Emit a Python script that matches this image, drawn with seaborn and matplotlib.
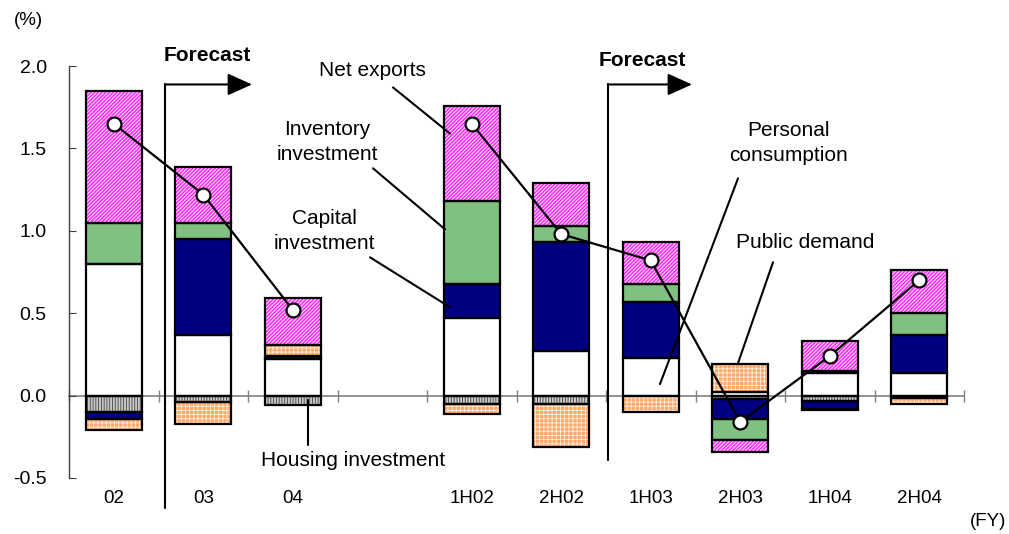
import numpy as np
import pandas as pd
import matplotlib
matplotlib.use("Agg")
import matplotlib.pyplot as plt
import seaborn as sns
from matplotlib.ticker import FormatStrFormatter

# contributions to real GDP growth (percentage points), blank slot separates FY and half-year data
categories = ["02", "03", "04", "", "1H02", "2H02", "1H03", "2H03", "1H04", "2H04"]
personal = [0.80, 0.37, 0.22, np.nan, 0.47, 0.27, 0.23, 0.02, 0.14, 0.14]
housing = [-0.10, -0.04, -0.06, np.nan, -0.05, -0.05, 0.0, -0.02, -0.03, -0.015]
capital = [-0.04, 0.58, 0.02, np.nan, 0.21, 0.66, 0.34, -0.12, -0.05, 0.23]
inventory = [0.25, 0.10, 0.0, np.nan, 0.50, 0.10, 0.11, -0.13, 0.01, 0.13]
public = [-0.07, -0.13, 0.07, np.nan, -0.06, -0.26, -0.10, 0.17, -0.01, -0.035]
net_exports = [0.80, 0.34, 0.28, np.nan, 0.58, 0.26, 0.25, -0.07, 0.18, 0.26]
gdp = [1.65, 1.22, 0.52, np.nan, 1.65, 0.98, 0.82, -0.16, 0.24, 0.70]
period = ["FY", "FY", "FY", None, "H", "H", "H", "H", "H", "H"]

sns.set_style("white")
plt.rcParams["font.family"] = ["Liberation Sans", "DejaVu Sans"]
plt.rcParams["axes.unicode_minus"] = False
plt.rcParams["hatch.linewidth"] = 0.6
plt.rcParams["text.color"] = "black"
plt.rcParams["xtick.color"] = "black"
plt.rcParams["ytick.color"] = "black"

fig = plt.figure(figsize=(10.09, 5.34), dpi=100)
ax = fig.add_axes([0.0684, 0.1049, 0.887, 0.7715])

# (values, face colour, hatch, hatch colour) in stacking order
components = [
    (personal, "white", None, "white"),
    (housing, "#c8c8c8", "||||||", "#404040"),
    (capital, "#000080", None, "#000080"),
    (inventory, "#80c080", None, "#80c080"),
    (public, "#ffa86a", "++++", "#fff0e0"),
    (net_exports, "#ff33ff", "/////////", "white"),
]

x = np.arange(len(categories))
width = 0.63
pos_base = np.zeros(len(x))
neg_base = np.zeros(len(x))
for vals, face, hatch, hcol in components:
    v = np.nan_to_num(np.array(vals, dtype=float))
    bottom = np.where(v >= 0, pos_base, neg_base)
    m = v != 0
    ax.bar(x[m], v[m], width, bottom=bottom[m], color=face, hatch=hatch,
           edgecolor=hcol, linewidth=0, zorder=2)
    ax.bar(x[m], v[m], width, bottom=bottom[m], fill=False,
           edgecolor="black", linewidth=1.6, zorder=3)
    pos_base += np.where(v > 0, v, 0)
    neg_base += np.where(v < 0, v, 0)

df = pd.DataFrame({"pos": x, "gdp": gdp, "period": period}).dropna()
sns.lineplot(data=df, x="pos", y="gdp", units="period", estimator=None, ax=ax,
             color="black", lw=1.6, marker="o", markersize=10,
             markerfacecolor="white", markeredgecolor="black",
             markeredgewidth=1.6, zorder=5)

ax.set_xlim(-0.5, len(categories) - 0.5)
ax.set_ylim(-0.5, 2.0)
ax.set_xlabel("")
ax.set_ylabel("")
ax.set_xticks(x, categories)
ax.set_yticks(np.arange(-0.5, 2.01, 0.5))
ax.yaxis.set_major_formatter(FormatStrFormatter("%.1f"))
ax.tick_params(axis="x", length=0, pad=9, labelsize=13.5)
ax.tick_params(axis="y", direction="in", length=5, pad=16, labelsize=14,
               color="#404040", left=True)
for s in ["top", "right", "bottom"]:
    ax.spines[s].set_visible(False)
ax.spines["left"].set_color("#404040")
ax.spines["left"].set_linewidth(1.0)

# zero line with category separators
sec = ax.secondary_xaxis(0.5 / 2.5)
sec.set_xticks(np.arange(-0.5, len(categories), 1.0))
sec.tick_params(direction="inout", length=9, width=1, color="#808080",
                labelbottom=False, labeltop=False)
for s in sec.spines.values():
    s.set_color("#808080")
    s.set_linewidth(1.2)

# labels with leader lines
lab = dict(ha="center", va="center", fontsize=15, linespacing=1.4)
ax.text(2.885, 1.973, "Net exports", **lab)
ax.plot([3.12, 3.757], [1.87, 1.59], color="black", lw=1.5, zorder=6)
ax.text(2.383, 1.536, "Inventory\ninvestment", **lab)
ax.plot([2.897, 3.701], [1.379, 1.009], color="black", lw=1.5, zorder=6)
ax.text(2.349, 0.997, "Capital\ninvestment", **lab)
ax.plot([2.863, 3.757], [0.839, 0.536], color="black", lw=1.5, zorder=6)
ax.text(7.534, 1.530, "Personal\nconsumption", **lab)
ax.plot([6.975, 6.103], [1.318, 0.07], color="black", lw=1.5, zorder=6)
ax.text(7.723, 0.93, "Public demand", **lab)
ax.plot([7.366, 6.975], [0.809, 0.197], color="black", lw=1.5, zorder=6)
ax.text(2.673, -0.391, "Housing investment", **lab)
ax.plot([2.17, 2.17], [-0.027, -0.30], color="black", lw=1.5, zorder=6)

# forecast markers
for xl, xt, xtip, ytxt, ybot in [(0.578, 1.042, 1.545, 2.064, -0.682),
                                  (5.522, 5.902, 6.461, 2.033, -0.391)]:
    ax.text(xt, ytxt, "Forecast", ha="center", va="center", fontsize=15,
            fontweight="bold", clip_on=False)
    ax.plot([xl, xl], [1.888, ybot], color="black", lw=1.5, clip_on=False, zorder=6)
    ax.annotate("", xy=(xtip, 1.888), xytext=(xl, 1.888), annotation_clip=False,
                arrowprops=dict(arrowstyle="-|>,head_length=1.0,head_width=0.45",
                                mutation_scale=15, color="black", lw=1.5,
                                shrinkA=0, shrinkB=0))

fig.text(0.028, 0.9625, "(%)", ha="center", va="center", fontsize=13.5)
fig.text(0.979, 0.0225, "(FY)", ha="center", va="center", fontsize=13.5)

fig.savefig("out.png", dpi=100)
